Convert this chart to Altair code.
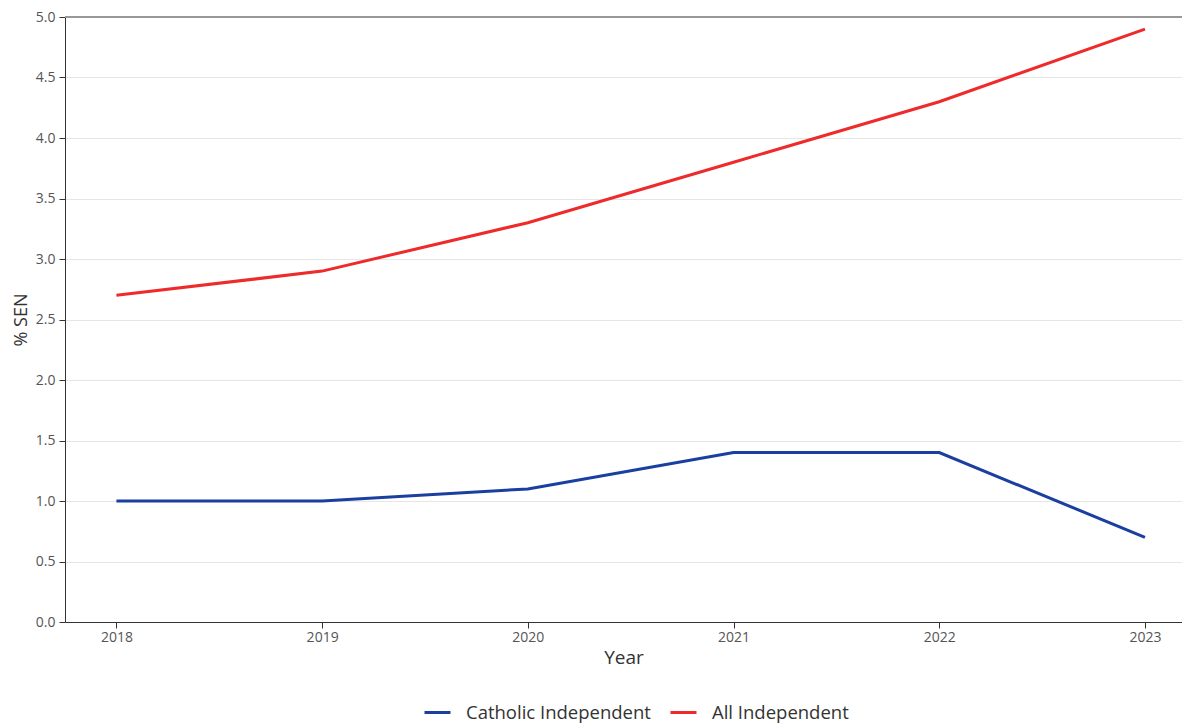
import altair as alt
import pandas as pd

years = [2018, 2019, 2020, 2021, 2022, 2023]
catholic_independent = [1.0, 1.0, 1.1, 1.4, 1.4, 0.7]
all_independent = [2.7, 2.9, 3.3, 3.8, 4.3, 4.9]
series_names = ["Catholic Independent", "All Independent"]
series_colors = ["#1b3fa0", "#ee2a2a"]
y_ticks = [0, 0.5, 1, 1.5, 2, 2.5, 3, 3.5, 4, 4.5, 5]

rows = []
for name, vals in zip(series_names, [catholic_independent, all_independent]):
    for y, v in zip(years, vals):
        rows.append({"Year": y, "Series": name, "SEN": v})
df = pd.DataFrame(rows)

FONT = "Open Sans"
W, H = 1117, 605

lines = alt.Chart(df).mark_line(strokeWidth=3).encode(
    x=alt.X("Year:Q",
            scale=alt.Scale(domain=[2017.75, 2023.18], nice=False, zero=False),
            axis=alt.Axis(values=years, format="d", title="Year", grid=False,
                          labelFontSize=14, titleFontSize=19, labelColor="#555",
                          titleColor="#333", titleFontWeight="normal",
                          domainColor="#333", tickColor="#333",
                          tickSize=6, labelPadding=2, titlePadding=4)),
    y=alt.Y("SEN:Q",
            scale=alt.Scale(domain=[0, 5], nice=False),
            axis=alt.Axis(values=y_ticks, format=".1f",
                          title="% SEN", grid=True, gridColor="#e6e6e6",
                          labelFontSize=14, titleFontSize=18, labelColor="#555",
                          titleColor="#333", titleFontWeight="normal",
                          domainColor="#333", tickColor="#333",
                          tickSize=6, labelPadding=4, titlePadding=5)),
    color=alt.Color("Series:N",
                    scale=alt.Scale(domain=series_names, range=series_colors),
                    sort=series_names,
                    legend=alt.Legend(title=None, orient="none", direction="horizontal",
                                      legendX=358, legendY=681,
                                      symbolType="stroke", symbolSize=676,
                                      symbolStrokeWidth=3, labelFontSize=18.5,
                                      labelColor="#333", columnPadding=13,
                                      labelOffset=14, labelLimit=0)),
)

top_line = alt.Chart(df).mark_rule(color="#999", strokeWidth=1.5).encode(
    x=alt.value(0), x2=alt.value(W), y=alt.value(0)
)

chart = alt.layer(top_line, lines).properties(
    width=W, height=H,
    autosize=alt.AutoSizeParams(type="none"),
    padding={"left": 57, "top": 9, "right": 0, "bottom": 110},
).configure(font=FONT).configure_view(stroke=None)

chart.save("out.html", embed_options={"renderer": "svg", "actions": False})
